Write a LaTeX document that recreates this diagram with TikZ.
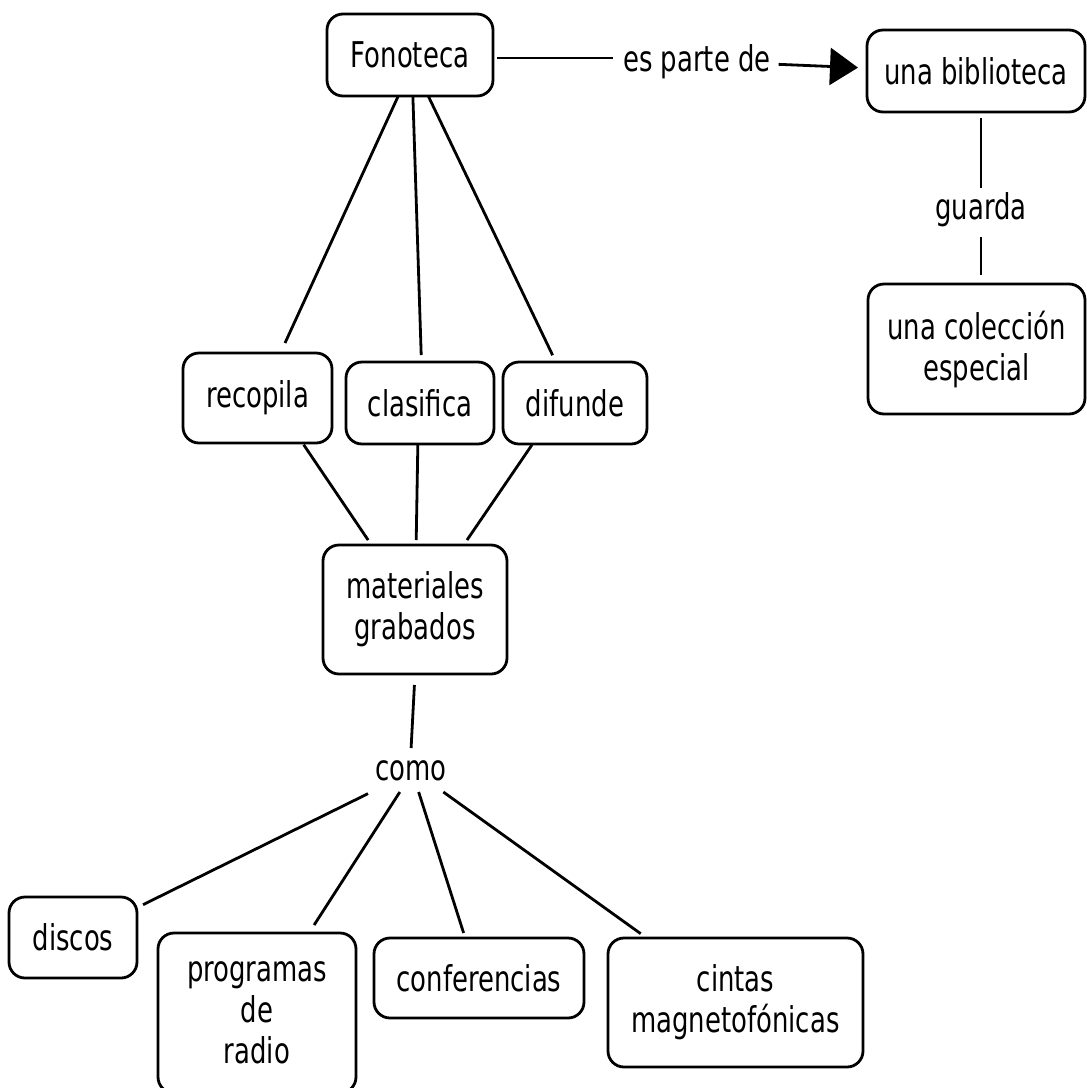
\documentclass[tikz,border=0pt]{standalone}
\usepackage{fontspec}
\setmainfont[FakeStretch=0.73]{DejaVu Sans}
\usetikzlibrary{arrows.meta}
\begin{document}
\begin{tikzpicture}[x=1pt,y=-1pt,
  cbox/.style={draw,line width=2.8pt,rounded corners=16pt,align=center,inner sep=0pt,outer sep=0pt,font=\fontsize{35.5}{41}\selectfont},
  lbl/.style={inner sep=0pt,outer sep=0pt,font=\fontsize{35.5}{41}\selectfont},
  conn/.style={line width=2.8pt}]
\useasboundingbox (0,0) rectangle (1087,1088);
\fill[white] (0,0) rectangle (1087,1088);

\node[cbox,minimum width=166pt,minimum height=82pt] (fon) at (410,55) {Fonoteca};
\node[cbox,minimum width=218pt,minimum height=82pt] (bib) at (976,71) {una biblioteca};
\node[lbl] (guarda) at (981,210) {guarda};
\node[cbox,minimum width=217pt,minimum height=130pt] (col) at (976.5,349) {una colección\\especial};
\node[cbox,minimum width=149pt,minimum height=90pt] (rec) at (257.5,398) {recopila};
\node[cbox,minimum width=148pt,minimum height=82pt] (cla) at (420,403) {clasifica};
\node[cbox,minimum width=144pt,minimum height=82pt] (dif) at (575,403) {difunde};
\node[cbox,minimum width=184pt,minimum height=129pt] (mat) at (415,609.5) {materiales\\grabados};
\node[lbl,minimum width=74pt,minimum height=42pt] (como) at (411,771) {como};
\node[cbox,minimum width=128pt,minimum height=81pt] (dis) at (73,937.5) {discos};
\node[cbox,minimum width=198pt,minimum height=160pt] (pro) at (257,1013) {programas\\de\\radio};
\node[cbox,minimum width=210pt,minimum height=80pt] (conf) at (479,978) {conferencias};
\node[cbox,minimum width=255pt,minimum height=129pt] (cin) at (735.5,1002.5) {cintas\\magnetofónicas};
\node[lbl,text height=26pt,text depth=0pt] (epd) at (697,58) {es parte de};

\draw[conn,shorten >=11pt] (fon.-106) -- (rec.63);
\draw[conn,shorten >=7pt] (fon.-86) -- (cla.88);
\draw[conn,shorten >=7.5pt] (fon.-66) -- (dif.115.5);
\draw[conn,shorten <=2pt,shorten >=6pt] (rec.-45) -- (mat.124);
\draw[conn,shorten >=5pt] (cla.-93) -- (mat.89);
\draw[conn,shorten <=1pt,shorten >=6pt] (dif.-136.6) -- (mat.53.6);
\draw[conn,shorten <=11pt,shorten >=2pt] (mat.south) -- (como.north);
\draw[conn,shorten <=6.7pt,shorten >=6.7pt] (como.-152.8) -- (dis.25.5);
\draw[conn,shorten >=9.5pt] (como.-118.9) -- (pro.57.9);
\draw[conn,shorten >=5.3pt] (como.-70.8) -- (conf.109.8);
\draw[conn,shorten >=7.4pt] (como.-33) -- (cin.144.1);
\draw[conn,shorten <=4pt,shorten >=10pt] (fon.east |- epd.west) -- (epd.west);
\draw[conn,-{Triangle[length=28pt,width=37pt]},shorten <=8pt,shorten >=9pt] ([yshift=-6pt]epd.east) -- ([yshift=3pt]bib.west);
\draw[conn,shorten <=6pt,shorten >=5pt] (guarda.north |- bib.south) -- (guarda.north);
\draw[conn,shorten <=10pt,shorten >=9pt] (guarda.south) -- (guarda.south |- col.north);
\end{tikzpicture}
\end{document}
